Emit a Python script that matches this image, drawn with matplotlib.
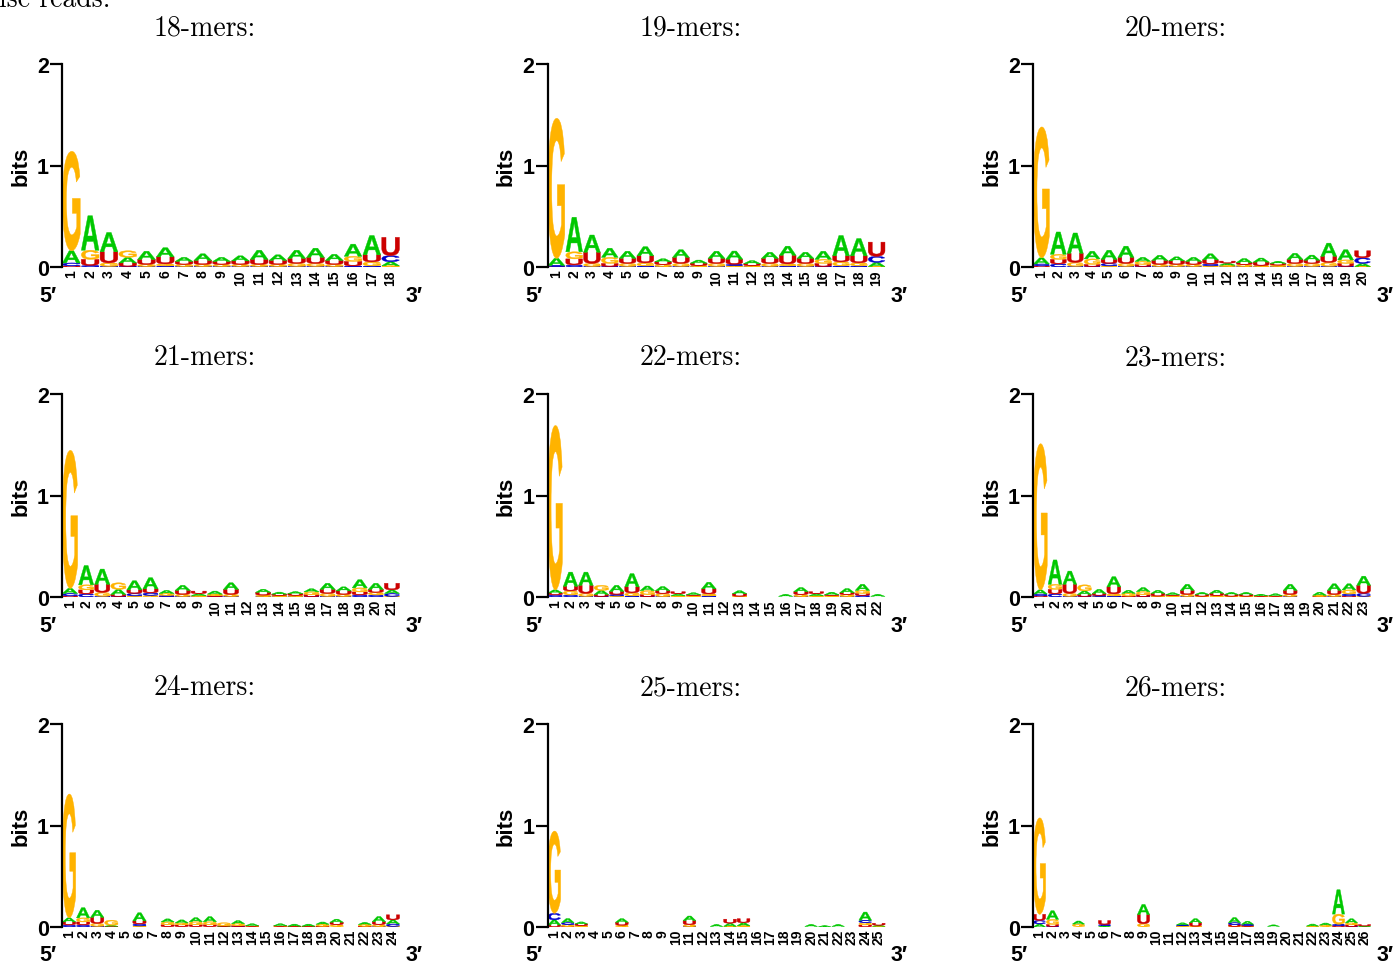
import matplotlib
matplotlib.use("Agg")
import matplotlib.pyplot as plt
from matplotlib.textpath import TextPath
from matplotlib.patches import PathPatch
from matplotlib.font_manager import FontProperties
from matplotlib.transforms import Affine2D

plt.rcParams["font.family"] = ["Liberation Sans", "DejaVu Sans"]

# information content (bits) per position, one list per base and read length
a18 = [.12, .34, .19, .055, .08, .09, .04, .065, .04, .05, .09, .055, .08, .09, .06, .12, .19, .04]
c18 = [.03, .015, .005, .005, .005, .01, .005, .005, .005, .005, .005, .005, .005, .005, .005, .01, .01, .06]
g18 = [.98, .09, .035, .065, .02, .02, .02, .02, .02, .02, .02, .02, .03, .03, .02, .05, .04, .012]
u18 = [.01, .06, .11, .035, .05, .07, .03, .04, .03, .035, .05, .04, .05, .06, .04, .045, .07, .18]

a19 = [.07, .34, .17, .09, .07, .09, .03, .075, .03, .07, .08, .03, .06, .09, .06, .08, .2, .17, .04]
c19 = [.01, .02, .005, .005, .005, .01, .003, .005, .003, .005, .015, .003, .005, .01, .005, .005, .01, .01, .06]
g19 = [1.38, .07, .03, .06, .03, .03, .02, .03, .01, .03, .012, .01, .03, .02, .03, .04, .04, .03, .005]
u19 = [.005, .06, .11, .03, .05, .07, .028, .06, .025, .05, .05, .02, .05, .085, .05, .03, .06, .07, .14]

a20 = [.06, .22, .2, .075, .09, .11, .04, .05, .04, .04, .06, .02, .04, .04, .02, .06, .05, .13, .1, .03]
c20 = [.02, .03, .005, .005, .025, .005, .005, .005, .005, .005, .02, .003, .003, .003, .003, .005, .005, .005, .005, .055]
g20 = [1.29, .05, .04, .055, .01, .03, .03, .02, .02, .02, .01, .015, .02, .01, .015, .03, .03, .04, .035, .005]
u20 = [.01, .045, .09, .02, .04, .06, .02, .04, .035, .03, .04, .02, .02, .035, .018, .04, .032, .06, .03, .07]

a21 = [.05, .19, .15, .05, .09, .11, .03, .05, .02, .03, .065, .002, .03, .02, .02, .03, .06, .04, .08, .06, .035]
c21 = [.025, .03, .005, .005, .025, .025, .01, .005, .003, .003, .005, .002, .003, .003, .003, .003, .005, .005, .02, .02, .03]
g21 = [1.36, .05, .04, .065, .01, .015, .02, .02, .01, .015, .02, .002, .015, .01, .012, .028, .03, .02, .04, .025, .005]
u21 = [.01, .04, .08, .02, .035, .04, .005, .04, .025, .01, .05, .002, .028, .015, .018, .02, .04, .035, .03, .03, .065]

a22 = [.03, .14, .13, .04, .06, .13, .045, .04, .02, .02, .065, .002, .03, .002, .002, .02, .04, .02, .025, .04, .06, .02]
c22 = [.02, .02, .005, .005, .015, .01, .003, .003, .002, .002, .01, .002, .002, .002, .002, .002, .003, .002, .002, .003, .015, .002]
g22 = [1.62, .04, .03, .05, .01, .03, .04, .03, .01, .01, .02, .002, .005, .002, .002, .002, .02, .01, .01, .02, .03, .002]
u22 = [.02, .045, .08, .02, .03, .06, .02, .03, .02, .01, .05, .002, .025, .002, .002, .002, .03, .02, .01, .02, .02, .002]

a23 = [.04, .24, .13, .035, .04, .1, .03, .04, .03, .02, .06, .02, .03, .02, .02, .015, .02, .06, .002, .03, .065, .06, .09]
c23 = [.02, .03, .005, .005, .01, .01, .003, .003, .003, .002, .005, .002, .002, .002, .002, .002, .002, .005, .002, .002, .005, .02, .03]
g23 = [1.44, .05, .03, .06, .005, .02, .028, .03, .005, .01, .02, .005, .01, .005, .005, .005, .005, .02, .002, .01, .02, .04, .005]
u23 = [.01, .045, .09, .02, .02, .07, .005, .02, .028, .01, .04, .018, .025, .018, .018, .005, .005, .04, .002, .005, .04, .01, .08]

a24 = [.04, .1, .07, .01, .002, .08, .002, .03, .03, .04, .05, .005, .03, .02, .002, .02, .02, .02, .022, .03, .002, .02, .05, .04]
c24 = [.02, .02, .005, .002, .002, .02, .002, .002, .002, .002, .002, .002, .003, .002, .002, .002, .002, .002, .002, .002, .002, .002, .003, .025]
g24 = [1.22, .04, .03, .05, .002, .01, .002, .028, .02, .03, .03, .03, .02, .005, .002, .005, .003, .003, .02, .02, .002, .018, .02, .005]
u24 = [.03, .03, .06, .005, .002, .03, .002, .02, .018, .02, .02, .005, .01, .005, .002, .005, .003, .003, .005, .025, .002, .005, .03, .05]

a25 = [.05, .04, .02, .001, .001, .035, .001, .001, .001, .001, .045, .001, .02, .03, .03, .001, .001, .001, .001, .02, .01, .02, .001, .08, .01]
c25 = [.065, .02, .002, .001, .001, .002, .001, .001, .001, .001, .003, .001, .001, .002, .002, .001, .001, .001, .001, .001, .001, .001, .001, .025, .002]
g25 = [.81, .018, .01, .001, .001, .015, .001, .001, .001, .001, .02, .001, .002, .005, .01, .001, .001, .001, .001, .002, .001, .002, .001, .022, .005]
u25 = [.02, .005, .018, .001, .001, .03, .001, .001, .001, .001, .04, .001, .002, .04, .04, .001, .001, .001, .001, .002, .001, .002, .001, .02, .02]

a26 = [.03, .085, .001, .03, .001, .01, .001, .001, .1, .001, .001, .02, .04, .001, .001, .05, .03, .001, .015, .001, .001, .02, .02, .24, .04, .005]
c26 = [.035, .005, .001, .002, .001, .012, .001, .001, .002, .001, .001, .01, .002, .001, .001, .02, .012, .001, .002, .001, .001, .002, .002, .015, .003, .002]
g26 = [.95, .05, .001, .025, .001, .002, .001, .001, .03, .001, .001, .008, .005, .001, .001, .005, .005, .001, .002, .001, .001, .005, .015, .1, .02, .002]
u26 = [.06, .02, .001, .002, .001, .04, .001, .001, .09, .001, .001, .003, .035, .001, .001, .018, .01, .001, .002, .001, .001, .002, .002, .012, .018, .015]

titles = ["18-mers:", "19-mers:", "20-mers:", "21-mers:", "22-mers:",
          "23-mers:", "24-mers:", "25-mers:", "26-mers:"]
panels = [(a18, c18, g18, u18), (a19, c19, g19, u19), (a20, c20, g20, u20),
          (a21, c21, g21, u21), (a22, c22, g22, u22), (a23, c23, g23, u23),
          (a24, c24, g24, u24), (a25, c25, g25, u25), (a26, c26, g26, u26)]

letters = "ACGU"
colors = {"A": "#00c800", "C": "#0000cc", "G": "#ffb300", "U": "#cc0000"}

glyph_font = FontProperties(family="Liberation Sans", weight="bold")
glyphs = {ch: TextPath((0, 0), ch, size=1, prop=glyph_font) for ch in letters}


def draw_letter(ax, ch, x, y0, h, w=0.94):
    p = glyphs[ch]
    ext = p.get_extents()
    t = (Affine2D().translate(-ext.x0, -ext.y0)
         .scale(w / ext.width, h / ext.height)
         .translate(x - w / 2, y0))
    ax.add_patch(PathPatch(t.transform_path(p), fc=colors[ch], ec=colors[ch], lw=0.3))


W, H = 1396, 970
fig = plt.figure(figsize=(W / 100, H / 100), dpi=100)

# caption line cut by the top edge, as in the source
fig.text(110 / W, 1 - 7 / H, "ise reads:", ha="right", va="baseline",
         family="cmr10", fontsize=20)

for i, (title, cols) in enumerate(zip(titles, panels)):
    r, c = divmod(i, 3)
    left = 62 + 485.5 * c
    zero = 268 + 330 * r
    ax = fig.add_axes([left / W, 1 - zero / H, 338 / W, 203 / H])
    n = len(cols[0])

    for pos in range(n):
        stack = sorted(zip([col[pos] for col in cols], letters))
        base = 0
        for h, ch in stack:
            if h >= 0.003:
                draw_letter(ax, ch, pos + 1, base, h)
            base += h

    ax.set_xlim(0.5, n + 0.5)
    ax.set_ylim(0, 2)
    ax.patch.set_visible(False)
    for s in ["top", "right", "bottom"]:
        ax.spines[s].set_visible(False)
    ax.spines["left"].set_linewidth(1.6)
    ax.set_xticks([])
    ax.set_yticks([0, 1, 2])
    ax.set_yticklabels(["0", "1", "2"], fontsize=15.5, fontweight="bold")
    ax.tick_params(axis="y", length=8.5, width=1.6, pad=1)

    ax.text((21 - 62) / 338, 0.5, "bits", transform=ax.transAxes, rotation=90,
            ha="center", va="center", fontsize=16, fontweight="bold")

    xt = ax.get_xaxis_transform()
    for pos in range(1, n + 1):
        ax.text(pos, -2 / 203, str(pos), transform=xt, rotation=90,
                ha="center", va="top", fontsize=10, fontweight="bold")

    ax.text((48 - 62) / 338, -28 / 203, "5\u2032", transform=ax.transAxes,
            ha="center", va="center", fontsize=15.5, fontweight="bold")
    ax.text((414 - 62) / 338, -28 / 203, "3\u2032", transform=ax.transAxes,
            ha="center", va="center", fontsize=15.5, fontweight="bold")

    fig.text((205 + 485.5 * c) / W, 1 - (35 + 330 * r) / H, title,
             ha="center", va="baseline", family="cmr10", fontsize=20)

fig.savefig("out.png", dpi=100)
